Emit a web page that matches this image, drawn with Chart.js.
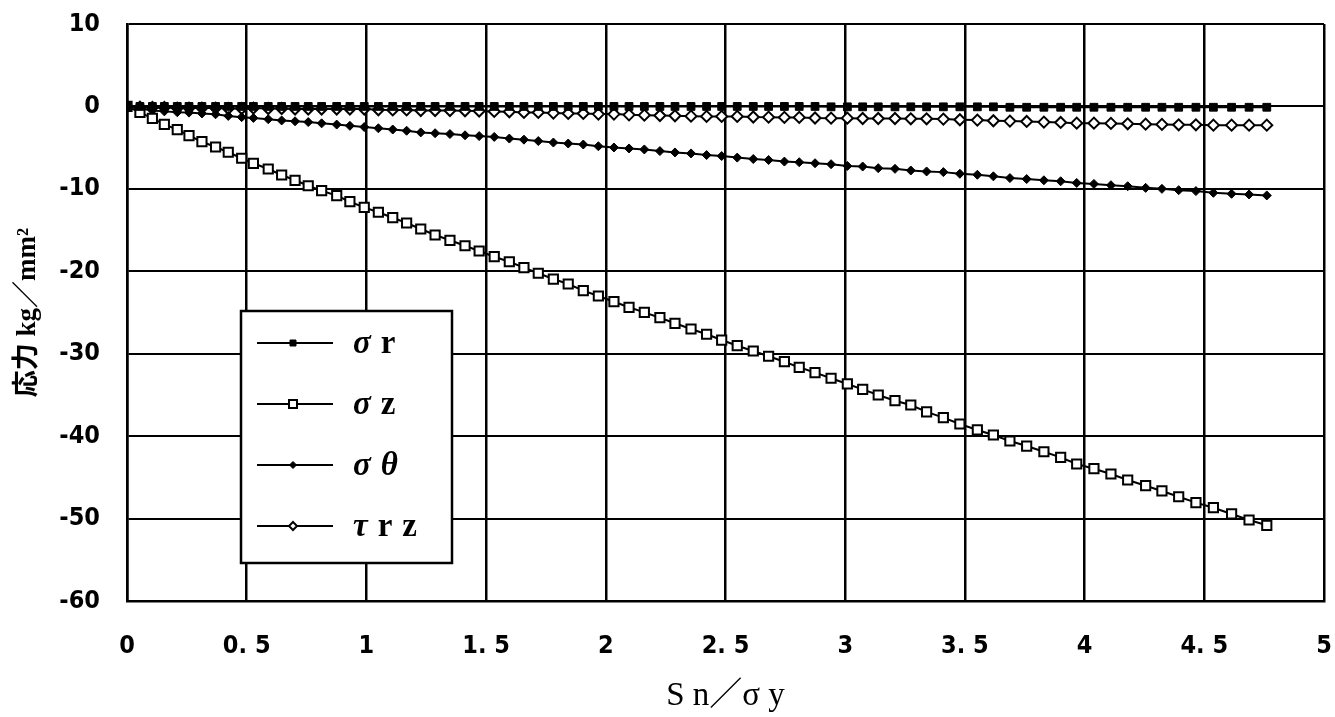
<!DOCTYPE html>
<html><head><meta charset="utf-8">
<script src="https://cdn.jsdelivr.net/npm/chart.js@4.4.1/dist/chart.umd.min.js"></script>
<style>html,body{margin:0;padding:0;background:#fff;}#wrap{width:1335px;height:717px;}</style>
</head><body><div id="wrap"><canvas id="c" width="1335" height="717"></canvas></div>
<script>
// Sn/σy values (shared by all series)
const snRatio = [0,0.054,0.106,0.156,0.210,0.259,0.313,0.370,0.423,0.479,
0.528,0.590,0.646,0.702,0.757,0.813,0.876,0.931,0.991,1.050,
1.110,1.168,1.227,1.287,1.349,1.412,1.471,1.534,1.597,1.658,
1.718,1.781,1.843,1.906,1.969,2.034,2.097,2.161,2.226,2.289,
2.356,2.421,2.484,2.549,2.616,2.680,2.746,2.808,2.874,2.941,
3.009,3.073,3.138,3.208,3.274,3.340,3.410,3.479,3.552,3.619,
3.688,3.758,3.830,3.900,3.967,4.039,4.110,4.180,4.255,4.323,
4.393,4.465,4.538,4.614,4.687,4.761];
const sigmaR = [0,0,0,0,0,0,0,0,0,0,
0,0,0,0,0,0,0,0,0,0,
0,0,0,0,0,0,0,0,0,0,
0,0,0,0,0,0,0,0,0,0,
0,0,0,0,0,0,0,0,0,-0.05,
-0.05,-0.05,-0.05,-0.05,-0.05,-0.05,-0.05,-0.05,-0.05,-0.05,
-0.1,-0.1,-0.1,-0.1,-0.1,-0.1,-0.1,-0.1,-0.1,-0.1,
-0.1,-0.1,-0.1,-0.1,-0.1,-0.1];
const sigmaZ = [0,-0.71,-1.44,-2.17,-2.82,-3.55,-4.28,-4.92,-5.56,-6.29,
-6.90,-7.59,-8.32,-8.96,-9.62,-10.22,-10.83,-11.56,-12.24,-12.84,
-13.50,-14.14,-14.87,-15.60,-16.24,-16.90,-17.54,-18.23,-18.84,-19.56,
-20.24,-20.94,-21.54,-22.35,-23.00,-23.69,-24.37,-24.98,-25.63,-26.31,
-27.00,-27.64,-28.34,-29.03,-29.67,-30.31,-30.97,-31.65,-32.30,-32.98,
-33.67,-34.32,-35.01,-35.70,-36.22,-37.05,-37.76,-38.53,-39.25,-39.86,
-40.59,-41.20,-41.89,-42.57,-43.38,-43.95,-44.59,-45.32,-46.01,-46.65,
-47.35,-48.07,-48.68,-49.44,-50.17,-50.82];
const sigmaTheta = [0,-0.25,-0.5,-0.6,-0.7,-0.75,-0.85,-0.95,-1.15,-1.3,
-1.4,-1.55,-1.7,-1.8,-1.9,-2.05,-2.2,-2.35,-2.5,-2.65,
-2.8,-2.95,-3.15,-3.25,-3.35,-3.5,-3.6,-3.7,-3.9,-4.03,
-4.2,-4.38,-4.5,-4.62,-4.83,-4.98,-5.1,-5.22,-5.42,-5.58,
-5.7,-5.9,-6.02,-6.21,-6.38,-6.5,-6.69,-6.77,-6.89,-7.01,
-7.22,-7.29,-7.49,-7.57,-7.77,-7.89,-7.97,-8.17,-8.29,-8.48,
-8.69,-8.81,-8.96,-9.08,-9.28,-9.4,-9.56,-9.68,-9.88,-10.0,
-10.16,-10.27,-10.48,-10.6,-10.68,-10.8];
const tauRZ = [0,-0.1,-0.12,-0.12,-0.2,-0.2,-0.2,-0.2,-0.25,-0.25,
-0.2,-0.25,-0.25,-0.32,-0.32,-0.32,-0.32,-0.32,-0.32,-0.4,
-0.42,-0.42,-0.5,-0.5,-0.5,-0.53,-0.55,-0.61,-0.65,-0.73,
-0.73,-0.81,-0.85,-0.85,-0.93,-0.93,-1.02,-1.06,-1.1,-1.14,
-1.18,-1.21,-1.21,-1.21,-1.28,-1.3,-1.33,-1.33,-1.4,-1.42,
-1.42,-1.46,-1.46,-1.46,-1.5,-1.5,-1.54,-1.62,-1.66,-1.74,
-1.78,-1.82,-1.9,-1.94,-2.03,-2.03,-2.06,-2.11,-2.15,-2.18,
-2.23,-2.23,-2.27,-2.27,-2.27,-2.27];
const seriesLabels = ['σ r','σ z','σ θ','τ r z'];
const xTickLabels = ['0','0. 5','1','1. 5','2','2. 5','3','3. 5','4','4. 5','5'];
const xAxisTitle = 'S n／σ y';
const yAxisTitle = '応力 kg／mm²';

const pts = arr => arr.map((v,i)=>({x:snRatio[i], y:v}));
const styles = [
  {pointStyle:'rect', radius:5.5, bg:'#000', bw:1},
  {pointStyle:'rect', radius:6.5, bg:'#fff', bw:2},
  {pointStyle:'rectRot', radius:4.5, bg:'#000', bw:1},
  {pointStyle:'rectRot', radius:5.5, bg:'#fff', bw:2}
];
const seriesData = [sigmaR, sigmaZ, sigmaTheta, tauRZ];
const datasets = seriesData.map((d,i)=>({
  label: seriesLabels[i], data: pts(d),
  borderColor:'#000', borderWidth:2,
  pointStyle: styles[i].pointStyle, pointRadius: styles[i].radius,
  pointBackgroundColor: styles[i].bg, pointBorderColor:'#000', pointBorderWidth: styles[i].bw,
  tension:0, fill:false
}));

const tickFont = {family:"'Liberation Sans Narrow','DejaVu Sans Condensed','DejaVu Sans',sans-serif", size:25, weight:'bold condensed'};

function drawMarker(ctx, style, x, y, r){
  ctx.save();
  ctx.fillStyle = style.bg; ctx.strokeStyle='#000'; ctx.lineWidth = style.bw;
  ctx.beginPath();
  if (style.pointStyle==='rect'){ ctx.rect(x-r, y-r, 2*r, 2*r); }
  else { ctx.moveTo(x, y-r); ctx.lineTo(x+r, y); ctx.lineTo(x, y+r); ctx.lineTo(x-r, y); ctx.closePath(); }
  ctx.fill(); ctx.stroke();
  ctx.restore();
}

const boxLegend = {
  id:'boxLegend',
  afterDraw(chart){
    const ctx = chart.ctx;
    const L = 241, T = 311, W = 211, H = 252;
    ctx.save();
    ctx.fillStyle='#fff'; ctx.fillRect(L,T,W,H);
    ctx.strokeStyle='#000'; ctx.lineWidth=2.5; ctx.strokeRect(L,T,W,H);
    const markerSizes = [3,4,3.5,4];
    chart.data.datasets.forEach((ds,i)=>{
      const y = T + 32 + i*61;
      ctx.strokeStyle='#000'; ctx.lineWidth=2;
      ctx.beginPath(); ctx.moveTo(L+16,y); ctx.lineTo(L+92,y); ctx.stroke();
      drawMarker(ctx, styles[i], L+52, y, markerSizes[i]);
      const toks = ds.label.split(' ');
      ctx.fillStyle='#000'; ctx.textBaseline='middle'; ctx.textAlign='left';
      let x = L+112;
      toks.forEach((t)=>{
        const greek = /[α-ωΑ-Ω]/.test(t);
        ctx.font = (greek?'italic ':'')+'bold 33px "Liberation Serif", serif';
        ctx.fillText(t, x, y+1);
        x += ctx.measureText(t).width + 10;
      });
    });
    ctx.restore();
  }
};

function fixPad(s){ s.paddingTop=0; s.paddingBottom=0; s.paddingLeft=0; s.paddingRight=0; }

new Chart(document.getElementById('c'), {
  type:'line',
  data:{datasets},
  options:{
    responsive:false, animation:false, devicePixelRatio:1,
    layout:{padding:{top:24,right:11,bottom:0,left:0}},
    plugins:{legend:{display:false}, tooltip:{enabled:false}},
    scales:{
      x:{type:'linear', min:0, max:5,
        ticks:{stepSize:0.5, color:'#000', font:tickFont, padding:30, maxRotation:0,
          callback:(v,i)=>xTickLabels[i]},
        grid:{color:'#000', lineWidth:2.5, drawTicks:false},
        border:{display:true, color:'#000', width:2.5},
        title:{display:true, text:xAxisTitle, color:'#000',
          font:{family:"'Liberation Serif','Noto Sans CJK JP',serif", size:33}, padding:{top:0,bottom:1}},
        afterFit:s=>{s.height=116; fixPad(s);}
      },
      y:{min:-60, max:10,
        ticks:{stepSize:10, color:'#000', font:tickFont, padding:27},
        grid:{color:'#000', lineWidth:2, drawTicks:false},
        border:{display:true, color:'#000', width:2.5},
        title:{display:true, text:yAxisTitle, color:'#000',
          font:{family:"'Liberation Serif','Noto Sans CJK JP',serif", size:27, weight:'bold'}, padding:{top:12,bottom:0}},
        afterFit:s=>{s.width=127; fixPad(s);}
      }
    }
  },
  plugins:[boxLegend]
});
</script></body></html>
